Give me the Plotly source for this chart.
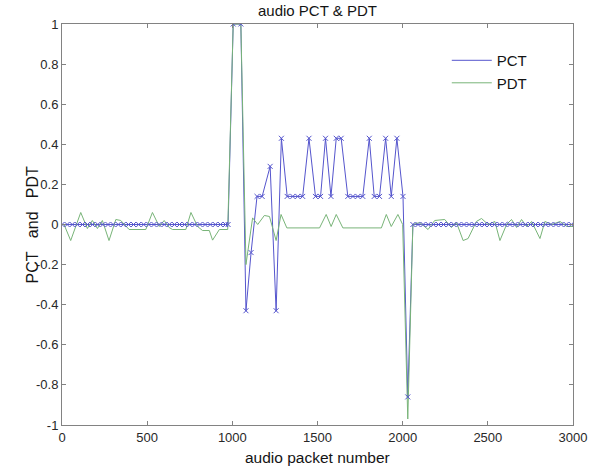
import plotly.graph_objects as go

# PCT series (x = audio packet number, y = value)
pct_x = [0, 30, 60, 90, 120, 150, 180, 210, 240, 270, 300, 330, 360, 390, 420, 450, 480,
         510, 540, 570, 600, 630, 660, 690, 720, 750, 780, 810, 840, 870, 900, 930, 960,
         975, 1005, 1050, 1080, 1110, 1145, 1175, 1222, 1257, 1288,
         1322, 1355, 1384, 1413, 1450, 1488, 1518, 1547, 1579, 1610, 1639,
         1678, 1708, 1737, 1766, 1804, 1833, 1864, 1900, 1933, 1966, 2002, 2030, 2060,
         2090, 2120, 2150, 2180, 2210, 2240, 2270, 2300, 2330, 2360, 2390, 2420, 2450,
         2480, 2510, 2540, 2570, 2600, 2630, 2660, 2690, 2720, 2750, 2780, 2810, 2840,
         2870, 2900, 2930, 2960, 2990]
pct_y = [0.0] * 33 + [
    0.0, 1.0, 1.0, -0.43, -0.14, 0.14, 0.14, 0.29, -0.43, 0.43,
    0.14, 0.14, 0.14, 0.14, 0.43, 0.14, 0.14, 0.43, 0.14, 0.43, 0.43,
    0.14, 0.14, 0.14, 0.14, 0.43, 0.14, 0.14, 0.43, 0.14, 0.43, 0.14, -0.86, 0.0,
] + [0.0] * 31

# PDT series
pdt_x = [12, 51, 110, 149, 178, 208, 237, 276, 316, 345, 394, 492, 531, 571, 600, 629,
         649, 727, 757, 796, 825, 865, 884, 924, 973,
         1005, 1050, 1080, 1119, 1149, 1188, 1218, 1257, 1286, 1320, 1512, 1551, 1580,
         1610, 1649, 1875, 1904, 1933, 1972, 2000, 2030, 2060,
         2100, 2149, 2188, 2247, 2286, 2316, 2355, 2384, 2433, 2463, 2502, 2541, 2571,
         2610, 2639, 2669, 2698, 2727, 2757, 2806, 2835, 2875, 2924, 2963, 3000]
pdt_y = [0.0, -0.08, 0.06, -0.02, 0.02, -0.02, 0.02, -0.08, 0.025, 0.02, -0.025, -0.025,
         0.06, -0.01, 0.02, -0.015, -0.025, -0.025, 0.06, -0.01, -0.03, -0.03, -0.078,
         -0.025, -0.025,
         1.0, 1.0, -0.2, 0.033, 0.0, 0.045, 0.04, -0.08, 0.05, -0.017, -0.017, 0.05,
         -0.01, 0.05, -0.017, -0.017, 0.05, -0.01, 0.05, 0.0, -0.97, 0.0,
         0.01, -0.025, 0.02, 0.025, -0.015, 0.01, -0.08, -0.07, 0.015, 0.03, 0.0, 0.015,
         -0.08, 0.0, 0.025, -0.015, 0.025, -0.01, 0.015, -0.07, 0.015, 0.0, 0.015,
         -0.01, -0.01]

x_ticks = [0, 500, 1000, 1500, 2000, 2500, 3000]
y_ticks = [-1, -0.8, -0.6, -0.4, -0.2, 0, 0.2, 0.4, 0.6, 0.8, 1]
y_tick_text = ["-1", "-0.8", "-0.6", "-0.4", "-0.2", "0", "0.2", "0.4", "0.6", "0.8", "1"]

PCT_COLOR = "rgb(85,85,205)"
PDT_COLOR = "rgb(120,180,120)"
FONT = "Liberation Sans, Arial, sans-serif"

fig = go.Figure()
# PCT line (shown in legend)
fig.add_trace(go.Scatter(
    x=pct_x, y=pct_y, name="PCT", mode="lines",
    line=dict(color=PCT_COLOR, width=1),
))
fig.add_trace(go.Scatter(
    x=pdt_x, y=pdt_y, name="PDT", mode="lines",
    line=dict(color=PDT_COLOR, width=1),
))
# PCT point markers
fig.add_trace(go.Scatter(
    x=pct_x, y=pct_y, name="PCT points", mode="markers", showlegend=False,
    marker=dict(symbol="x-thin", size=5, line=dict(color=PCT_COLOR, width=1), color=PCT_COLOR),
))

axis_common = dict(
    showline=True, linecolor="rgb(130,130,130)", linewidth=1, mirror="ticks",
    ticks="inside", ticklen=4, tickcolor="rgb(130,130,130)",
    showgrid=False, zeroline=False,
    tickfont=dict(family=FONT, size=13, color="rgb(40,40,40)"),
)

fig.update_layout(
    width=601, height=467,
    margin=dict(l=62, r=28, t=24, b=42),
    paper_bgcolor="white", plot_bgcolor="white",
    showlegend=True,
    legend=dict(
        x=0.753, y=0.95, xanchor="left", yanchor="top",
        bgcolor="rgba(255,255,255,0)", borderwidth=0,
        font=dict(family=FONT, size=15, color="rgb(20,20,20)"),
        itemwidth=40, tracegroupgap=0,
    ),
    xaxis=dict(range=[0, 3000], tickvals=x_ticks, **axis_common),
    yaxis=dict(range=[-1, 1], tickvals=y_ticks, ticktext=y_tick_text, **axis_common),
)

fig.add_annotation(text="audio PCT & PDT", xref="paper", yref="paper",
                   x=0.5, y=1, xanchor="center", yanchor="middle", yshift=14,
                   showarrow=False,
                   font=dict(family=FONT, size=15, color="rgb(20,20,20)"))
fig.add_annotation(text="audio packet number", xref="paper", yref="paper",
                   x=0.5, y=0, xanchor="center", yanchor="middle", yshift=-32,
                   showarrow=False,
                   font=dict(family=FONT, size=15.5, color="rgb(20,20,20)"))
fig.add_annotation(text="PCT\u00a0\u00a0 and\u00a0\u00a0 PDT", xref="paper", yref="paper",
                   x=0, y=0.5, xanchor="center", yanchor="middle", xshift=-30,
                   textangle=-90, showarrow=False,
                   font=dict(family=FONT, size=16, color="rgb(20,20,20)"))

fig.write_html(
    "out.html",
    config={"displayModeBar": False},
    post_script="document.body.style.margin='0';document.body.style.overflow='hidden';",
)
